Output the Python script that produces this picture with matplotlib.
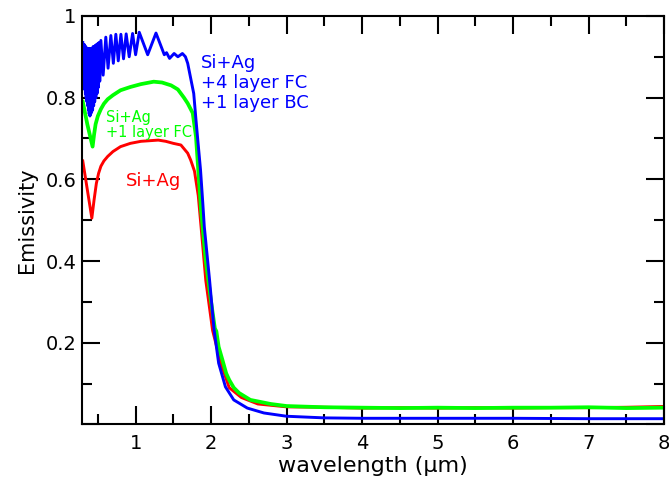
import matplotlib
matplotlib.use("Agg")
import matplotlib.pyplot as plt
from matplotlib.ticker import MultipleLocator, FuncFormatter

# ── data ────────────────────────────────────────────────────────────────────
blue_w = [0.300, 0.305, 0.310, 0.315, 0.320, 0.325, 0.330, 0.335, 0.340, 0.345,
          0.350, 0.355, 0.360, 0.365, 0.370, 0.375, 0.380, 0.385, 0.390, 0.395,
          0.400, 0.406, 0.412, 0.418, 0.424, 0.430, 0.437, 0.444, 0.451, 0.458,
          0.465, 0.473, 0.481, 0.489, 0.497, 0.506, 0.515, 0.525,
          0.54, 0.57, 0.605, 0.635, 0.672, 0.705, 0.738, 0.77, 0.805, 0.84,
          0.875, 0.915, 0.96, 1.0, 1.048, 1.16, 1.27, 1.38, 1.41, 1.45, 1.51,
          1.56, 1.62, 1.66, 1.69, 1.73, 1.77, 1.80, 1.82, 1.86, 1.89, 1.91,
          1.98, 2.04, 2.10, 2.19, 2.30, 2.48, 2.70, 3.0, 3.5, 4.0, 5.0, 6.0,
          7.0, 8.0]
blue_v = [0.935, 0.85, 0.93, 0.835, 0.93, 0.82, 0.925, 0.81, 0.925, 0.80,
          0.92, 0.79, 0.92, 0.78, 0.92, 0.77, 0.92, 0.76, 0.92, 0.755,
          0.92, 0.76, 0.92, 0.765, 0.92, 0.77, 0.925, 0.78, 0.925, 0.79,
          0.928, 0.80, 0.93, 0.81, 0.932, 0.825, 0.935, 0.84,
          0.94, 0.855, 0.948, 0.872, 0.952, 0.884, 0.955, 0.89, 0.955, 0.895,
          0.956, 0.90, 0.957, 0.905, 0.96, 0.905, 0.958, 0.905, 0.91, 0.896, 0.908,
          0.90, 0.908, 0.90, 0.884, 0.847, 0.81, 0.745, 0.704, 0.623, 0.542, 0.484,
          0.353, 0.231, 0.15, 0.092, 0.06, 0.04, 0.028, 0.02, 0.016, 0.015, 0.015,
          0.015, 0.014, 0.014]

green_w = [0.30, 0.36, 0.43, 0.45, 0.47, 0.50, 0.54, 0.58, 0.63, 0.70, 0.80,
           0.93, 1.07, 1.24, 1.35, 1.47, 1.56, 1.64, 1.69, 1.757, 1.80, 1.83,
           1.867, 1.93, 2.00, 2.05, 2.07, 2.10, 2.15, 2.20, 2.24, 2.30, 2.37,
           2.52, 2.79, 3.0, 3.5, 4.0, 4.5, 5.0, 5.5, 6.0, 6.5, 7.0, 7.5, 8.0]
green_v = [0.79, 0.735, 0.68, 0.71, 0.735, 0.755, 0.772, 0.785, 0.796, 0.806, 0.818,
           0.826, 0.833, 0.839, 0.837, 0.83, 0.82, 0.80, 0.786, 0.762, 0.704, 0.623,
           0.525, 0.40, 0.30, 0.235, 0.228, 0.19, 0.158, 0.125, 0.109, 0.09, 0.077,
           0.06, 0.05, 0.045, 0.042, 0.041, 0.040, 0.041, 0.040, 0.041, 0.041,
           0.042, 0.040, 0.041]

red_w = [0.30, 0.36, 0.42, 0.45, 0.48, 0.51, 0.54, 0.58, 0.63, 0.70, 0.80,
         0.93, 1.07, 1.30, 1.40, 1.50, 1.60, 1.69, 1.73, 1.78, 1.83, 1.867,
         1.93, 2.02, 2.13, 2.24, 2.40, 2.62, 3.0, 3.5, 4.0, 4.5, 5.0, 5.5,
         6.0, 6.5, 7.0, 7.5, 8.0]
red_v = [0.645, 0.575, 0.505, 0.55, 0.59, 0.615, 0.632, 0.645, 0.656, 0.668, 0.68,
         0.688, 0.693, 0.696, 0.693, 0.688, 0.684, 0.664, 0.647, 0.62, 0.56, 0.484,
         0.352, 0.23, 0.149, 0.09, 0.066, 0.05, 0.043, 0.042, 0.040, 0.041, 0.040,
         0.041, 0.040, 0.041, 0.041, 0.042, 0.044]

# ── plot ────────────────────────────────────────────────────────────────────
fig = plt.figure(figsize=(6.69, 4.78), dpi=100)
ax = fig.add_axes([0.1226, 0.1121, 0.8699, 0.8546])

ax.plot(red_w, red_v, color='#ff0000', linewidth=2.1)
ax.plot(green_w, green_v, color='#00ff00', linewidth=2.7)
ax.plot(blue_w, blue_v, color='#0000ff', linewidth=2.1)

ax.text(1.24, 0.597, 'Si+Ag', color='#ff0000', fontsize=13,
        ha='center', va='center')
ax.text(0.61, 0.770, 'Si+Ag\n+1 layer FC', color='#00ff00', fontsize=10.5,
        ha='left', va='top', linespacing=1.0)
ax.text(1.87, 0.907, 'Si+Ag\n+4 layer FC\n+1 layer BC', color='#0000ff',
        fontsize=13, ha='left', va='top', linespacing=1.15)

ax.set_xlim(0.29, 8)
ax.set_ylim(0, 1)
ax.xaxis.set_major_locator(MultipleLocator(1))
ax.xaxis.set_minor_locator(MultipleLocator(0.5))
ax.yaxis.set_major_locator(MultipleLocator(0.2))
ax.yaxis.set_minor_locator(MultipleLocator(0.1))
ax.xaxis.set_major_formatter(FuncFormatter(lambda v, p: f'{v:g}'))
ax.yaxis.set_major_formatter(FuncFormatter(lambda v, p: '' if v == 0 else f'{v:g}'))

ax.tick_params(which='both', direction='in', top=True, right=True, width=1.5,
               labelsize=14)
ax.tick_params(which='major', length=13)
ax.tick_params(which='minor', length=7)
ax.tick_params(axis='x', pad=7)
ax.tick_params(axis='y', pad=4)
for s in ax.spines.values():
    s.set_linewidth(1.5)

ax.set_xlabel('wavelength (μm)', fontsize=16, labelpad=2)
ax.set_ylabel('Emissivity', fontsize=15, labelpad=6)

fig.savefig('out.png', dpi=100)
